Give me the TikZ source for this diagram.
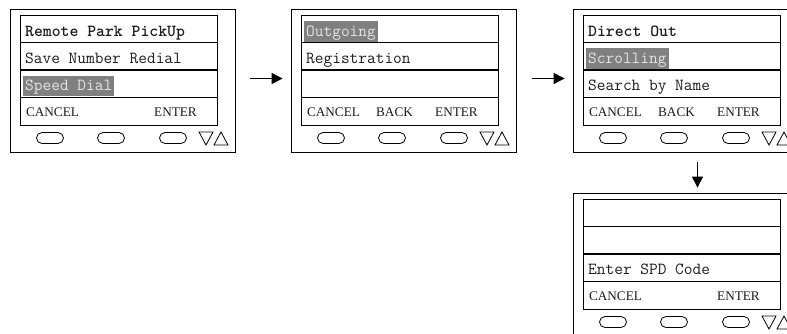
\documentclass[tikz,border=0pt]{standalone}
\usepackage{fontspec}
\usepackage{xcolor}
\usepackage{tikz}
\usetikzlibrary{calc,arrows.meta,positioning}
\newfontfamily\lcdserif{Liberation Serif}
\definecolor{lcdText}{RGB}{28,28,28}
\definecolor{lcdHiFill}{RGB}{128,128,128}
\definecolor{lcdHiText}{RGB}{228,228,228}

\newcommand{\hilite}[1]{{\setlength{\fboxsep}{2pt}\kern-2pt\colorbox{lcdHiFill}{\color{lcdHiText}\vrule height 13pt depth 3.5pt width 0pt #1}}}

\tikzset{
  panel/.style={draw, line width=0.8pt, minimum width=225pt, minimum height=143pt, inner sep=0pt},
  screen/.style={draw, line width=0.8pt, minimum width=197pt, minimum height=110pt, inner sep=0pt},
  rowline/.style={line width=1.3pt},
  menutext/.style={anchor=base west, inner sep=0pt, text=lcdText, font=\ttfamily\fontsize{16.9pt}{19pt}\selectfont},
  softkey/.style={anchor=base, inner sep=0pt, text=lcdText, font=\lcdserif\fontsize{13.2pt}{16pt}\selectfont},
  softbtn/.style={draw, line width=0.8pt, rounded corners=5.5pt, minimum width=27pt, minimum height=11pt, inner sep=0pt},
  flowarrow/.style={line width=1pt, -{Triangle[length=11pt,width=11pt]}}
}

% one handset display: name, x, y, three menu rows, middle soft key
\newcommand{\phonepanel}[7]{%
\begin{scope}[shift={(#2,#3)}]
\node[panel] (#1) at (112.5,71.5) {};
\node[screen] (#1s) at (108.5,61) {};
\foreach \yy in {33.5,61}
  \draw[rowline] (10,\yy) -- (207,\yy);
\draw[line width=0.8pt] (10,88.5) -- (207,88.5);
\node[menutext] (#1r1) at (15,27) {#4};
\node[menutext] (#1r2) at (15,54) {#5};
\node[menutext] (#1r3) at (15,81.5) {#6};
\node[softkey] (#1k1) at (42.5,107.5) {CANCEL};
\node[softkey] (#1k2) at (103.5,107.5) {#7};
\node[softkey] (#1k3) at (165.5,107.5) {ENTER};
\foreach \bx/\bn in {40/1,101/2,163/3}
  \node[softbtn] (#1b\bn) at (\bx,129) {};
\draw[line width=0.8pt] (189,123) -- (203,123) -- (196,136) -- cycle;
\draw[line width=0.8pt] (204,136) -- (218,136) -- (211,123) -- cycle;
\end{scope}}

\begin{document}
\begin{tikzpicture}[x=1pt,y=-1pt]
\useasboundingbox (0,0) rectangle (787,333);
\clip (0,0) rectangle (787,333);

\phonepanel{p1}{10}{9}{\bfseries Remote Park PickUp}{Save Number Redial}{\hilite{Speed Dial}}{}
\phonepanel{p2}{291}{9}{\hilite{Outgoing}}{Registration}{}{BACK}
\phonepanel{p3}{573}{9}{\bfseries Direct Out}{\hilite{Scrolling}}{Search by Name}{BACK}
\phonepanel{p4}{573}{193}{}{}{Enter SPD Code}{}

% menu flow
\draw[flowarrow, shorten <=15pt, shorten >=8pt] ([yshift=2pt]p1.east) -- ([yshift=2pt]p2.west);
\draw[flowarrow, shorten <=16pt, shorten >=8pt] ([yshift=2pt]p2.east) -- ([yshift=2pt]p3.west);
\draw[flowarrow, shorten <=10pt, shorten >=5pt] ([xshift=12pt]p3.south) -- ([xshift=12pt]p4.north);
\end{tikzpicture}
\end{document}
